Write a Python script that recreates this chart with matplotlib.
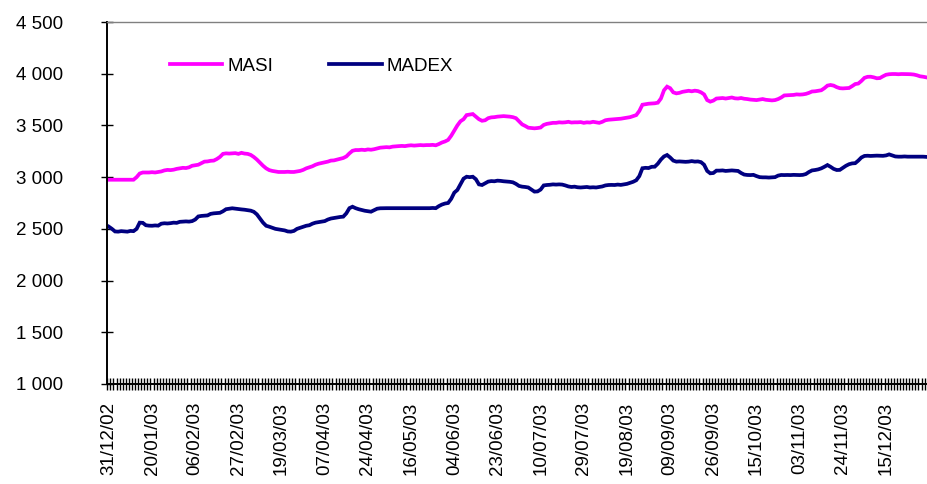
import numpy as np
import matplotlib
matplotlib.use("Agg")
from matplotlib import pyplot as plt
from matplotlib.ticker import FixedLocator

# MASI and MADEX daily closes (one value per trading day)
masi = [
	2975, 2975, 2975, 2975, 2975, 2975, 2975, 2975, 2975, 3000,
	3035, 3045, 3045, 3045, 3048, 3045, 3050, 3055, 3065, 3070,
	3068, 3072, 3080, 3085, 3090, 3088, 3095, 3110, 3115, 3120,
	3135, 3150, 3152, 3158, 3160, 3175, 3195, 3225, 3230, 3228,
	3230, 3232, 3225, 3235, 3228, 3225, 3215, 3195, 3170, 3140,
	3110, 3085, 3068, 3060, 3055, 3050, 3050, 3050, 3052, 3050,
	3050, 3055, 3060, 3070, 3085, 3095, 3105, 3120, 3130, 3137,
	3145, 3150, 3160, 3162, 3170, 3178, 3185, 3200, 3230, 3255,
	3262, 3262, 3265, 3262, 3268, 3265, 3270, 3278, 3285, 3288,
	3290, 3288, 3295, 3298, 3300, 3302, 3300, 3305, 3308, 3305,
	3308, 3310, 3308, 3310, 3310, 3312, 3308, 3320, 3335, 3345,
	3360, 3400, 3450, 3500, 3540, 3560, 3600, 3605, 3610, 3585,
	3560, 3545, 3550, 3570, 3578, 3580, 3585, 3588, 3590, 3588,
	3585, 3580, 3570, 3540, 3510, 3495, 3478, 3475, 3472, 3475,
	3480, 3505, 3515, 3520, 3525, 3525, 3530, 3528, 3530, 3535,
	3528, 3530, 3530, 3532, 3525, 3530, 3528, 3535, 3530, 3525,
	3535, 3550, 3555, 3558, 3560, 3562, 3565, 3570, 3575, 3580,
	3590, 3600, 3640, 3700, 3705, 3710, 3712, 3714, 3720, 3760,
	3840, 3875, 3860, 3820, 3810, 3815, 3825, 3830, 3835, 3830,
	3836, 3832, 3820, 3800, 3745, 3730, 3740, 3760, 3762, 3765,
	3760, 3765, 3770, 3762, 3760, 3765, 3758, 3755, 3750, 3748,
	3745, 3750, 3755, 3748, 3745, 3742, 3745, 3755, 3770, 3790,
	3792, 3795, 3795, 3800, 3798, 3800, 3805, 3815, 3828, 3830,
	3835, 3840, 3860, 3885, 3891, 3885, 3870, 3860, 3858, 3860,
	3862, 3880, 3900, 3905, 3930, 3960, 3970, 3971, 3965, 3956,
	3958, 3975, 3990, 3995, 3997, 3997, 3995, 3997, 3997, 3996,
	3995, 3992, 3985, 3975, 3971, 3965,
]

madex = [
	2521, 2500, 2475, 2473, 2478, 2475, 2473, 2480, 2478, 2500,
	2560, 2558, 2535, 2531, 2530, 2533, 2531, 2550, 2554, 2552,
	2555, 2560, 2558, 2568, 2570, 2572, 2570, 2575, 2590, 2620,
	2625, 2627, 2630, 2645, 2650, 2652, 2655, 2670, 2690, 2695,
	2699, 2695, 2690, 2688, 2685, 2680, 2676, 2665, 2640, 2600,
	2560, 2530, 2521, 2510, 2500, 2495, 2489, 2485, 2475, 2473,
	2480, 2500, 2510, 2521, 2530, 2535, 2550, 2560, 2565, 2570,
	2575, 2590, 2600, 2605, 2610, 2615, 2618, 2650, 2700, 2714,
	2700, 2690, 2682, 2675, 2670, 2666, 2680, 2695, 2699, 2700,
	2700, 2700, 2700, 2700, 2700, 2700, 2700, 2700, 2700, 2700,
	2700, 2700, 2700, 2700, 2700, 2702, 2700, 2720, 2735, 2745,
	2750, 2790, 2850, 2876, 2930, 2985, 3004, 3000, 3004, 2980,
	2930, 2924, 2940, 2957, 2962, 2960, 2966, 2964, 2960, 2958,
	2955, 2950, 2935, 2915, 2908, 2905, 2900, 2880, 2860, 2862,
	2880, 2920, 2924, 2926, 2930, 2928, 2930, 2928, 2920, 2910,
	2905, 2908, 2902, 2900, 2902, 2905, 2900, 2902, 2900, 2905,
	2910, 2920, 2924, 2925, 2924, 2928, 2925, 2930, 2935, 2945,
	2955, 2970, 3010, 3086, 3090, 3088, 3100, 3101, 3130, 3170,
	3200, 3214, 3190, 3160, 3150, 3152, 3150, 3148, 3150, 3155,
	3150, 3152, 3145, 3120, 3060, 3037, 3040, 3063, 3063, 3065,
	3060, 3063, 3065, 3062, 3060, 3040, 3025, 3021, 3020, 3022,
	3010, 3000, 2998, 2998, 2996, 2998, 3000, 3015, 3021, 3020,
	3021, 3020, 3022, 3021, 3020, 3022, 3030, 3050, 3065, 3069,
	3075, 3085, 3100, 3117, 3100, 3080, 3069, 3070, 3090, 3110,
	3125, 3133, 3135, 3160, 3190, 3205, 3207, 3205, 3207, 3208,
	3207, 3206, 3210, 3220, 3210, 3200, 3198, 3198, 3200, 3198,
	3198, 3198, 3197, 3198, 3198, 3196,
]

date_labels = ["31/12/02", "20/01/03", "06/02/03", "27/02/03", "19/03/03",
	"07/04/03", "24/04/03", "16/05/03", "04/06/03", "23/06/03", "10/07/03",
	"29/07/03", "19/08/03", "09/09/03", "26/09/03", "15/10/03", "03/11/03",
	"24/11/03", "15/12/03"]
label_step = 14

y_ticks = [1000, 1500, 2000, 2500, 3000, 3500, 4000, 4500]
y_labels = ["1 000", "1 500", "2 000", "2 500", "3 000", "3 500", "4 000", "4 500"]

plt.rcParams['font.family'] = ['Liberation Sans', 'DejaVu Sans']
plt.rcParams['font.size'] = 13.5

n = len(masi)
x = np.arange(n)

fig = plt.figure(figsize=(9.28, 4.84), dpi=100)
ax = fig.add_axes([107/928, 1-384/484, 1-107/928, (384-22)/484])

ax.plot(x, masi, color="#FF00FF", lw=2.7, label="MASI", solid_joinstyle='miter')
ax.plot(x, madex, color="#000080", lw=2.7, label="MADEX", solid_joinstyle='miter')

ax.set_xlim(-0.6, n - 0.4)
ax.set_ylim(1000, 4500)

ax.set_yticks(y_ticks)
ax.set_yticklabels(y_labels)
ax.tick_params(axis='y', direction='inout', length=9, width=1, pad=27, colors='black')

ax.set_xticks(np.arange(len(date_labels)) * label_step)
ax.set_xticklabels(date_labels, rotation=90, va='top', ha='center')
ax.tick_params(axis='x', which='major', length=0, pad=13)
ax.xaxis.set_minor_locator(FixedLocator(np.arange(n + 1) - 0.5))
ax.tick_params(axis='x', which='minor', direction='inout', length=8, width=1)

for s in ['left', 'bottom']:
	ax.spines[s].set_linewidth(1.4)
ax.spines['top'].set_color('#808080')
ax.spines['top'].set_linewidth(1)
ax.spines['right'].set_visible(False)

ax.legend(loc='center left', bbox_to_anchor=(170/928, 1-66/484),
	bbox_transform=fig.transFigure, ncol=2, frameon=False,
	handlelength=2.8, handletextpad=0.25, columnspacing=3.0,
	borderpad=0, borderaxespad=0)

fig.savefig("out.png", dpi=100)
